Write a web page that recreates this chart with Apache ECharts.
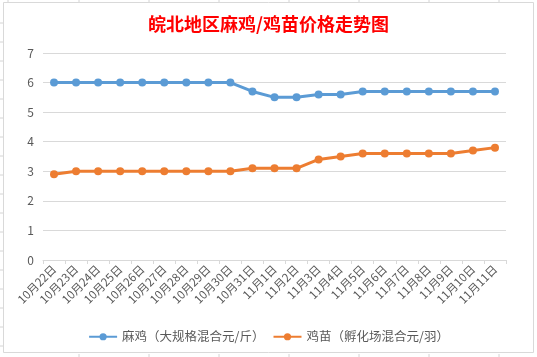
<!DOCTYPE html>
<html><head><meta charset="utf-8">
<script src="https://cdn.jsdelivr.net/npm/echarts@6/dist/echarts.min.js"></script>
<style>html,body{margin:0;padding:0;background:#fff}#c{width:537px;height:357px}</style>
</head><body><div id="c"></div>
<script>
const title = '皖北地区麻鸡/鸡苗价格走势图';
const categories = ['10月22日','10月23日','10月24日','10月25日','10月26日','10月27日','10月28日','10月29日','10月30日','10月31日','11月1日','11月2日','11月3日','11月4日','11月5日','11月6日','11月7日','11月8日','11月9日','11月10日','11月11日'];
const maji = [6.0,6.0,6.0,6.0,6.0,6.0,6.0,6.0,6.0,5.7,5.5,5.5,5.6,5.6,5.7,5.7,5.7,5.7,5.7,5.7,5.7];
const jimiao = [2.9,3.0,3.0,3.0,3.0,3.0,3.0,3.0,3.0,3.1,3.1,3.1,3.4,3.5,3.6,3.6,3.6,3.6,3.6,3.7,3.8];
const seriesNames = ['麻鸡（大规格混合元/斤）','鸡苗（孵化场混合元/羽）'];

const chart = echarts.init(document.getElementById('c'), null, {renderer:'canvas'});
const font = '"Noto Sans CJK SC",sans-serif';
// Excel sheet grid stubs outside the chart frame
const stubs = [];
[8,79,149,219,289,359,429,499].forEach(x=>stubs.push({type:'line',shape:{x1:x,y1:0,x2:x,y2:2},style:{stroke:'#d4d4d4',lineWidth:1}}));
[23,42,61,80,99,118,137,156,175,194,213,232,251,270,289,308,327,346].forEach(y=>stubs.push({type:'line',shape:{x1:0,y1:y,x2:3,y2:y},style:{stroke:'#d4d4d4',lineWidth:1}}));
[79,149,219,289,359,429,499].forEach(x=>stubs.push({type:'line',shape:{x1:x,y1:354,x2:x,y2:357},style:{stroke:'#d4d4d4',lineWidth:1}}));
stubs.push({type:'rect',shape:{x:3.5,y:2.5,width:530,height:350},style:{fill:'none',stroke:'#d9d9d9',lineWidth:1}});

chart.setOption({
  animation:false,
  backgroundColor:'#fff',
  graphic: stubs,
  title:{text:title,left:'center',top:10,textStyle:{color:'#ff0000',fontSize:18,fontWeight:'bold',fontFamily:font}},
  grid:{left:43,right:31,top:53,bottom:97,containLabel:false},
  legend:{bottom:9,left:'center',itemWidth:28,itemHeight:9,itemGap:8,
    textStyle:{color:'#595959',fontSize:12.5,fontFamily:font},
    data:seriesNames},
  xAxis:{type:'category',data:categories,boundaryGap:true,
    axisLine:{lineStyle:{color:'#d9d9d9',width:1}},
    axisTick:{show:true,length:4,lineStyle:{color:'#d9d9d9'}},
    axisLabel:{rotate:45,interval:0,color:'#595959',fontSize:11.5,fontFamily:font,margin:7}},
  yAxis:{type:'value',min:0,max:7,interval:1,
    axisLine:{show:false},axisTick:{show:false},
    axisLabel:{color:'#595959',fontSize:12,fontFamily:font,margin:9},
    splitLine:{lineStyle:{color:'#d9d9d9',width:1}}},
  series:[
    {name:seriesNames[0],type:'line',data:maji,symbol:'circle',symbolSize:8,
     lineStyle:{color:'#5b9bd5',width:3},itemStyle:{color:'#5b9bd5'}},
    {name:seriesNames[1],type:'line',data:jimiao,symbol:'circle',symbolSize:8,
     lineStyle:{color:'#ed7d31',width:3},itemStyle:{color:'#ed7d31'}}
  ]
});
</script></body></html>
